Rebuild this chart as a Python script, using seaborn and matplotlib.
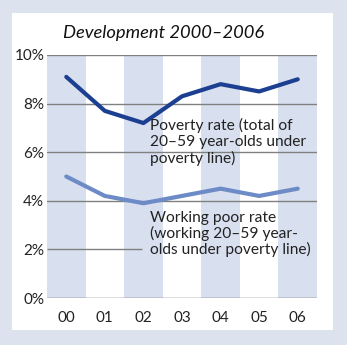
import matplotlib
matplotlib.use("Agg")
import matplotlib.pyplot as plt
import seaborn as sns
import pandas as pd
from matplotlib.patches import Rectangle

years = ["00", "01", "02", "03", "04", "05", "06"]
poverty_rate = [9.1, 7.7, 7.2, 8.3, 8.8, 8.5, 9.0]
working_poor_rate = [5.0, 4.2, 3.9, 4.2, 4.5, 4.2, 4.5]
y_ticks = [0, 2, 4, 6, 8, 10]
y_tick_labels = ["0%", "2%", "4%", "6%", "8%", "10%"]
title = "Development 2000\u20132006"
poverty_label = "Poverty rate (total of\n20\u201359 year-olds under\npoverty line)"
working_label = "Working poor rate\n(working 20\u201359 year-\nolds under poverty line)"

sns.set_theme(style="white")
plt.rcParams['font.family'] = ['Lato', 'DejaVu Sans']

W, H = 347, 345
dpi = 100
fig = plt.figure(figsize=(W / dpi, H / dpi), dpi=dpi)
outer = "#dce3ef"
band = "#d8dfee"
fig.patch.set_facecolor(outer)
fig.patches.append(Rectangle((12 / W, (H - 330) / H), (333 - 12) / W, (330 - 13) / H,
                             transform=fig.transFigure, facecolor="white", edgecolor="none", zorder=-5))

ax = fig.add_axes([47 / W, (H - 298) / H, (317 - 47) / W, (298 - 55) / H])
ax.set_facecolor("none")
ax.set_zorder(2)

df = pd.DataFrame({"x": list(range(len(years))) * 2,
                   "value": poverty_rate + working_poor_rate,
                   "series": ["Poverty"] * len(years) + ["Working poor"] * len(years)})

for i in range(len(years)):
    if i % 2 == 0:
        ax.axvspan(i - 0.5, i + 0.5, color=band, lw=0, zorder=0)

grid_color = "#808080"
for yv in y_ticks[1:]:
    if yv == 2:
        ax.plot([-0.5, 1.95], [yv, yv], color=grid_color, lw=1.0, zorder=1, solid_capstyle="butt")
    else:
        ax.axhline(yv, color=grid_color, lw=1.0, zorder=1)
ax.axhline(0, color="#555555", lw=1.0, zorder=1)

sns.lineplot(data=df, x="x", y="value", hue="series",
             palette={"Poverty": "#1c3f92", "Working poor": "#6d8bc6"},
             linewidth=3.0, legend=False, ax=ax, zorder=3)

ax.set_xlim(-0.5, 6.5)
ax.set_ylim(0, 10)
ax.set_xticks(range(len(years)))
ax.set_xticklabels(years)
ax.set_yticks(y_ticks)
ax.set_yticklabels(y_tick_labels)
ax.tick_params(axis="both", length=0, labelsize=11, colors="#222222")
ax.tick_params(axis="x", pad=9)
ax.tick_params(axis="y", pad=2)
for s in ax.spines.values():
    s.set_visible(False)
ax.set_xlabel("")
ax.set_ylabel("")

ax.text(2.18, 7.42, poverty_label, fontsize=11.2, color="#222222", va="top", ha="left",
        linespacing=1.17, zorder=4)
ax.text(2.18, 3.6, working_label, fontsize=11.2, color="#222222", va="top", ha="left",
        linespacing=1.1, zorder=4)

fig.text(63 / W, 1 - 33 / H, title, fontsize=13.2, style="italic", color="#111111",
         ha="left", va="center")

fig.savefig("out.png", dpi=dpi, facecolor=fig.get_facecolor())
